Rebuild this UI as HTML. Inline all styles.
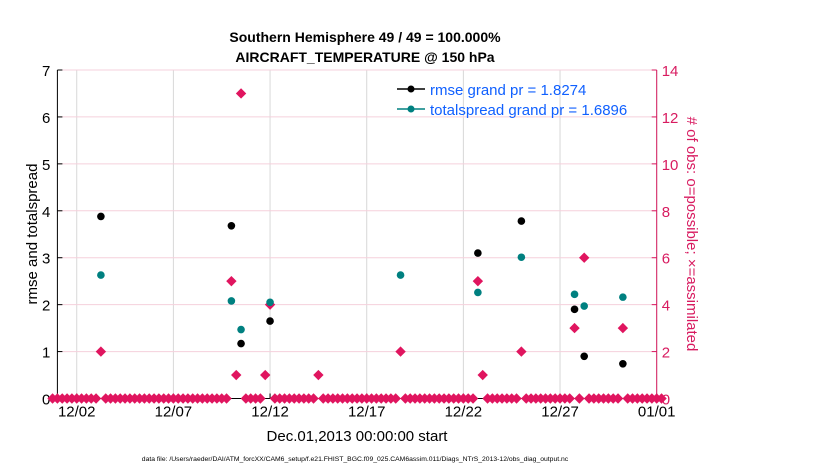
<!DOCTYPE html>
<html><head><meta charset="utf-8"><style>
body{margin:0;background:#fff;font-family:"Liberation Sans",sans-serif}
</style></head><body>
<svg id="c" width="830" height="470" xmlns="http://www.w3.org/2000/svg" font-family="Liberation Sans, sans-serif">
<text x="365" y="42" text-anchor="middle" font-size="14" font-weight="bold">Southern Hemisphere 49 / 49 = 100.000%</text>
<text x="365" y="62" text-anchor="middle" font-size="14" font-weight="bold">AIRCRAFT_TEMPERATURE @ 150 hPa</text>
<g id="grid"></g><g id="axes"></g><g id="marks"></g>
<text transform="translate(37,234) rotate(-90)" text-anchor="middle" font-size="15">rmse and totalspread</text>
<text transform="translate(687,234) rotate(90)" text-anchor="middle" font-size="15" fill="#d81b60"># of obs: o=possible; ×=assimilated</text>
<text x="357" y="441" text-anchor="middle" font-size="15">Dec.01,2013 00:00:00 start</text>
<text x="355" y="461" text-anchor="middle" font-size="6.8">data file: /Users/raeder/DAI/ATM_forcXX/CAM6_setup/f.e21.FHIST_BGC.f09_025.CAM6assim.011/Diags_NTrS_2013-12/obs_diag_output.nc</text>
<g>
<line x1="397" y1="89" x2="425" y2="89" stroke="#000" stroke-width="1.5"/><circle cx="411" cy="89" r="3.5" fill="#000"/>
<text x="430" y="95" font-size="15" fill="#1060ff">rmse grand pr = 1.8274</text>
<line x1="397" y1="109" x2="425" y2="109" stroke="#008080" stroke-width="1.5"/><circle cx="411" cy="109" r="3.5" fill="#008080"/>
<text x="430" y="115" font-size="15" fill="#1060ff">totalspread grand pr = 1.6896</text>
</g>
</svg>
<script>
const xTickLabels=["12/02","12/07","12/12","12/17","12/22","12/27","01/01"];
const xTickDays=[1,6,11,16,21,26,31];
const yTicks=[0,1,2,3,4,5,6,7];
const y2Ticks=[0,2,4,6,8,10,12,14];
const rmseK=[9,36,38,44,87,96,107,109,117];
const rmseVals=[3.88,3.68,1.17,1.65,3.10,3.78,1.90,0.90,0.74];
const spreadK=[9,36,38,44,71,87,96,107,109,117];
const spreadVals=[2.63,2.08,1.47,2.05,2.63,2.26,3.01,2.22,1.97,2.16];
// counts every 6h starting at k=-1
const countStartK=-1;
const counts=[0,0,0,0,0,0,0,0,0,0,2,0,0,0,0,0,0,0,0,0,0,0,0,0,0,0,0,0,0,0,0,0,0,0,0,0,0,5,1,13,0,0,0,0,1,4,0,0,0,0,0,0,0,0,0,1,0,0,0,0,0,0,0,0,0,0,0,0,0,0,0,0,2,0,0,0,0,0,0,0,0,0,0,0,0,0,0,0,5,1,0,0,0,0,0,0,0,2,0,0,0,0,0,0,0,0,0,0,3,0,6,0,0,0,0,0,0,0,3,0,0,0,0,0,0,0,0];
const X0=57.4,X1=656.7,Y0=398.5,Y1=70;
const x=d=>X0+(X1-X0)*d/31;
const xk=k=>x(k*0.25);
const y=v=>Y0-(Y0-Y1)*v/7;
const y2=v=>Y0-(Y0-Y1)*v/14;
const NS="http://www.w3.org/2000/svg";
function mk(t,a,p){const e=document.createElementNS(NS,t);for(const k in a)e.setAttribute(k,a[k]);p.appendChild(e);return e;}
const G=document.getElementById('grid'),A=document.getElementById('axes'),M=document.getElementById('marks');
xTickDays.forEach((d,i)=>{
 const l=mk('line',{x1:x(d),x2:x(d),y1:Y1,y2:Y0,stroke:'#d8d8d8'},G);
 
 
 mk('line',{x1:x(d),x2:x(d),y1:Y0,y2:Y0-5,stroke:'#000'},A);
 const t=mk('text',{x:x(d),y:Y0+18,'text-anchor':'middle','font-size':15},A);t.textContent=xTickLabels[i];
 
 
});
y2Ticks.forEach(v=>{
 if(v>0){const l=mk('line',{x1:X0,x2:X1,y1:y2(v),y2:y2(v),stroke:'#f5d0dc'},G);
 
 }
 mk('line',{x1:X1-5,x2:X1,y1:y2(v),y2:y2(v),stroke:'#d81b60'},A);
 const t=mk('text',{x:X1+5,y:y2(v)+6,'font-size':15,fill:'#d81b60'},A);t.textContent=v;
 
 
});
yTicks.forEach(v=>{
 mk('line',{x1:X0,x2:X0+5,y1:y(v),y2:y(v),stroke:'#000'},A);
 const t=mk('text',{x:X0-7,y:y(v)+6,'text-anchor':'end','font-size':15},A);t.textContent=v;
 
 
});
mk('line',{x1:X0,x2:X0,y1:Y1,y2:Y0,stroke:'#000'},A);
mk('line',{x1:X0,x2:X1,y1:Y0,y2:Y0,stroke:'#000'},A);
mk('line',{x1:X1,x2:X1,y1:Y1,y2:Y0,stroke:'#d81b60'},A);
counts.forEach((c,i)=>{
 const cx=xk(i+countStartK),cy=y2(c),r=5.2;
 const p=mk('polygon',{points:`${cx},${cy-r} ${cx+r},${cy} ${cx},${cy+r} ${cx-r},${cy}`,fill:'#e0155f'},M);
 
 
});
spreadK.forEach((k,i)=>{
 const c=mk('circle',{cx:xk(k),cy:y(spreadVals[i]),r:3.8,fill:'#008080'},M);
 
 
});
rmseK.forEach((k,i)=>{
 const c=mk('circle',{cx:xk(k),cy:y(rmseVals[i]),r:3.8,fill:'#000'},M);
 
 
});
</script>
</body></html>
